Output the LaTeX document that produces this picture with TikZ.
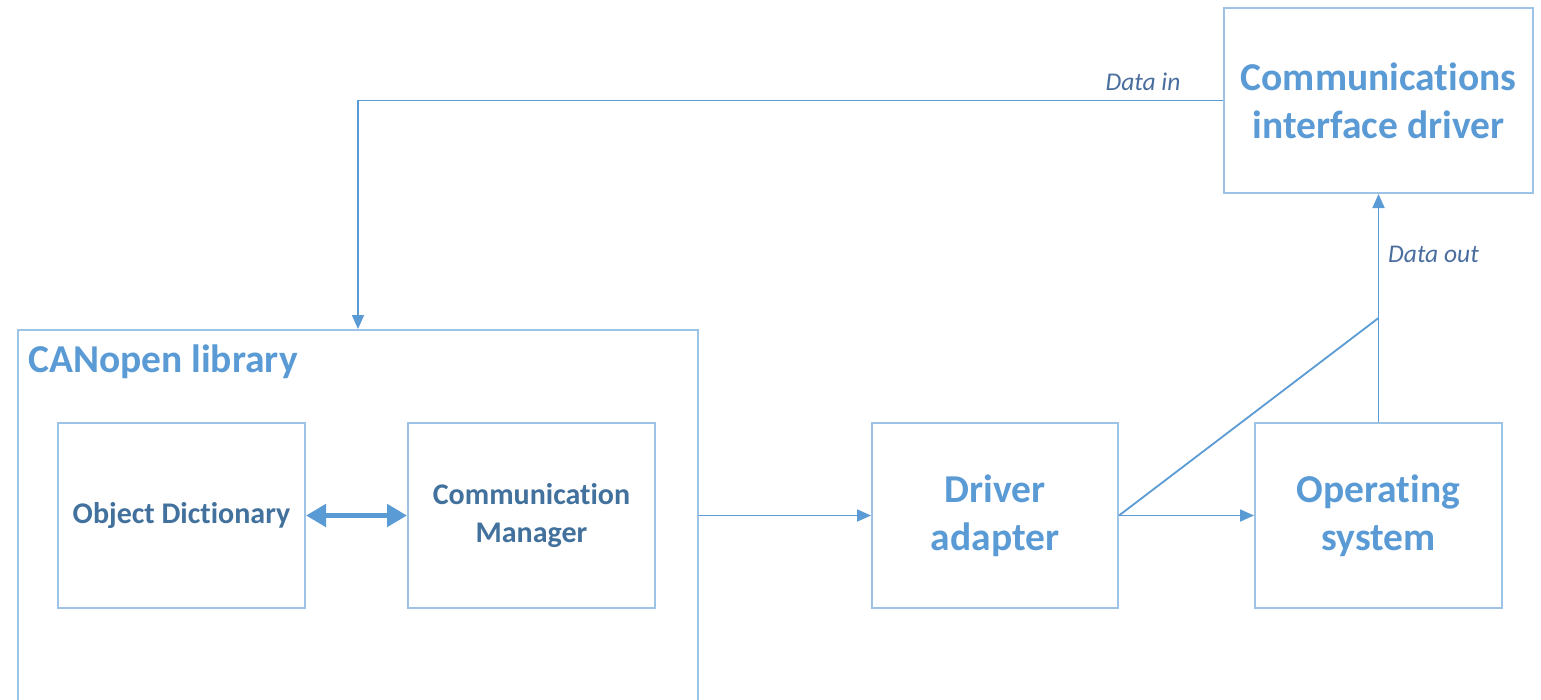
\documentclass[tikz,border=0pt]{standalone}
\usepackage{fontspec}
\setmainfont{Carlito}[Ligatures=NoCommon]
\usetikzlibrary{arrows.meta}
\definecolor{boxc}{HTML}{9DC3E6}
\definecolor{linec}{HTML}{5B9BD5}
\definecolor{bigt}{HTML}{5B9BD5}
\definecolor{midt}{HTML}{41719C}
\definecolor{labt}{HTML}{4A6E9E}
\tikzset{
  blk/.style={draw=boxc, line width=2pt, rectangle, inner sep=0pt, align=center},
  bigtxt/.style={text=bigt, font=\fontsize{39.5}{48}\selectfont\bfseries},
  midtxt/.style={text=midt, font=\fontsize{30}{38}\selectfont\bfseries},
  conn/.style={draw=linec, line width=1.8pt},
  arr/.style={conn, -{Triangle[length=14pt,width=12pt]}},
  dblarr/.style={draw=linec, line width=5pt, {Triangle[length=20pt,width=22pt]}-{Triangle[length=20pt,width=22pt]}},
  lbl/.style={text=labt, font=\fontsize{25.5}{28}\selectfont\itshape, inner sep=0pt}
}
\begin{document}
\begin{tikzpicture}[x=1pt,y=-1pt]
\clip (0,0) rectangle (1541,699);
\fill[white] (0,0) rectangle (1541,699);
\node[blk, bigtxt, minimum width=309pt, minimum height=185pt] (cid) at (1378.5,100.5) {Communications\\interface driver};
\node[blk, minimum width=680pt, minimum height=380pt] (can) at (358,520) {};
\node[bigtxt, anchor=west, inner sep=0pt] (canl) at (28,362) {CANopen library};
\node[blk, midtxt, minimum width=247pt, minimum height=185pt] (od) at (181.5,515.5) {Object Dictionary};
\node[blk, midtxt, minimum width=247pt, minimum height=185pt] (cm) at (531.5,515.5) {Communication\\Manager};
\node[blk, bigtxt, minimum width=246pt, minimum height=185pt] (da) at (995,515.5) {Driver\\adapter};
\node[blk, bigtxt, minimum width=247pt, minimum height=185pt] (os) at (1378.5,515.5) {Operating\\system};
\coordinate (j) at (1378.5,318);
\draw[arr] (cid.west) -| (can.north);
\node[lbl, anchor=center] (din) at (1143,82) {Data in};
\draw[arr] (os.north) -- (cid.south);
\node[lbl, anchor=west] (dout) at (1388,254) {Data out};
\draw[conn] (da.east) -- (j);
\draw[arr] (da.east) -- (os.west);
\draw[arr] (can.east |- da.west) -- (da.west);
\draw[dblarr] (od.east) -- (cm.west);
\end{tikzpicture}
\end{document}
